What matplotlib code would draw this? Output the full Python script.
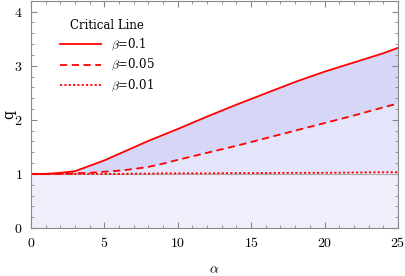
import matplotlib
matplotlib.use("Agg")
import matplotlib.pyplot as plt
from matplotlib.ticker import MultipleLocator, FuncFormatter

plt.rcParams['font.family'] = 'serif'
plt.rcParams['font.serif'] = ['DejaVu Serif']
plt.rcParams['mathtext.fontset'] = 'cm'

# critical lines q(alpha)
alpha = [0, 1, 2, 3, 4, 5, 6, 7, 8, 9, 10, 12, 14, 16, 18, 20, 22, 24, 25]
q_b01 = [1.0, 1.0, 1.02, 1.05, 1.15, 1.25, 1.37, 1.49, 1.61, 1.72, 1.83,
         2.06, 2.28, 2.49, 2.70, 2.89, 3.06, 3.23, 3.33]
q_b005 = [1.0, 1.0, 1.0, 1.01, 1.02, 1.04, 1.06, 1.09, 1.13, 1.19, 1.26,
          1.39, 1.52, 1.66, 1.80, 1.94, 2.08, 2.23, 2.30]
q_b001 = [1.0, 1.0, 1.0, 1.0, 1.0, 1.0, 1.0, 1.005, 1.005, 1.01, 1.01,
          1.01, 1.015, 1.015, 1.02, 1.02, 1.025, 1.03, 1.03]
labels = [r'$\beta$=0.1', r'$\beta$=0.05', r'$\beta$=0.01']

fig = plt.figure(figsize=(4.05, 2.76), dpi=100)
ax = fig.add_axes([0.0765, 0.174, 0.906, 0.823])

# shaded regions
ax.fill_between(alpha, 0, q_b001, color='#efeffc', lw=0)
ax.fill_between(alpha, q_b001, q_b005, color='#e4e4fa', lw=0)
ax.fill_between(alpha, q_b005, q_b01, color='#d6d6f7', lw=0)
ax.plot([0, 25], [1, 1], color='#aaaaaa', lw=0.8)

ax.plot(alpha, q_b01, color='red', lw=1.3, label=labels[0])
ax.plot(alpha, q_b005, color='red', lw=1.3, ls=(0, (4, 2.5)), label=labels[1])
ax.plot(alpha, q_b001, color='red', lw=1.3, ls=(0, (1.2, 1.2)), label=labels[2])

ax.set_xlim(0, 25)
ax.set_ylim(0, 4.2)
ax.xaxis.set_major_locator(MultipleLocator(5))
ax.xaxis.set_minor_locator(MultipleLocator(1))
ax.yaxis.set_major_locator(MultipleLocator(1))
ax.yaxis.set_minor_locator(MultipleLocator(0.2))
fmt = FuncFormatter(lambda v, p: '$%g$' % v)
ax.xaxis.set_major_formatter(fmt)
ax.yaxis.set_major_formatter(fmt)
ax.tick_params(which='both', direction='in', top=True, right=True,
               color='#888888', labelsize=10, pad=6)
ax.tick_params(which='major', length=4)
ax.tick_params(which='minor', length=2)
for s in ax.spines.values():
    s.set_color('#888888')

ax.set_xlabel(r'$\alpha$', fontsize=10)
ax.set_ylabel('q', fontsize=10)
ax.xaxis.set_label_coords(0.5, -0.15)
ax.yaxis.set_label_coords(-0.04, 0.5)

leg = ax.legend(loc='upper left', bbox_to_anchor=(0.05, 0.965), frameon=False,
                title='Critical Line', fontsize=8.5, title_fontsize=8.5,
                handlelength=3.5, labelspacing=0.35)

fig.savefig('out.png', dpi=100)
